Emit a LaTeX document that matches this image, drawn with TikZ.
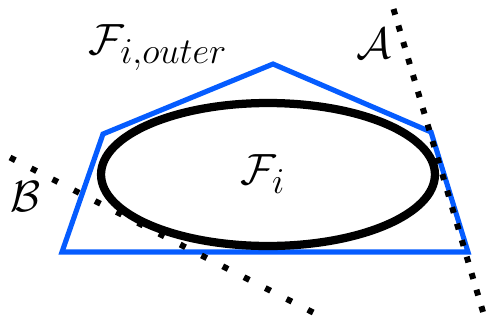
\documentclass[tikz,border=0pt]{standalone}
\usepackage{tikz}
\definecolor{outerblue}{RGB}{5,92,255}

\begin{document}
\begin{tikzpicture}[
        x=0.02cm, y=-0.02cm,
        outer/.style={line width=2.9pt, draw=outerblue, line join=miter},
        inner/.style={line width=4.7pt},
        cutA/.style={line width=3.4pt, dash pattern=on 3.4pt off 6.4pt},
        cutB/.style={line width=3.4pt, dash pattern=on 3.4pt off 10.2pt},
        lbl/.style={font=\fontsize{31}{36}\selectfont, inner sep=0pt},
    ]
    \useasboundingbox (0, 0) rectangle (488, 329);

    %% outer approximation
    \coordinate (p1) at (62, 252);
    \coordinate (p2) at (103, 134);
    \coordinate (p3) at (273, 64);
    \coordinate (p4) at (431, 132);
    \coordinate (p5) at (468, 252);
    \draw[outer] (p1) -- (p2) -- (p3) -- (p4) -- (p5) -- cycle;

    %% the set itself
    \coordinate (c) at (268, 174.5);
    \draw[inner] (c) ellipse [x radius=3.34cm, y radius=1.43cm];

    %% supporting half-planes
    \coordinate (a1) at (393.5, 9);
    \coordinate (a2) at (486, 322);
    \draw[cutA] (a1) -- (a2);
    \coordinate (b1) at (10, 157.5);
    \coordinate (b2) at (318, 315);
    \draw[cutB] (b1) -- (b2);

    \node[lbl] (fo) at (158, 48) {$\mathcal{F}_{i,outer}$};
    \node[lbl] (fi) at (263, 174) {$\mathcal{F}_i$};
    \node[lbl] (la) at (374, 44) {$\mathcal{A}$};
    \node[lbl] (lb) at (26, 197) {$\mathcal{B}$};
\end{tikzpicture}
\end{document}
